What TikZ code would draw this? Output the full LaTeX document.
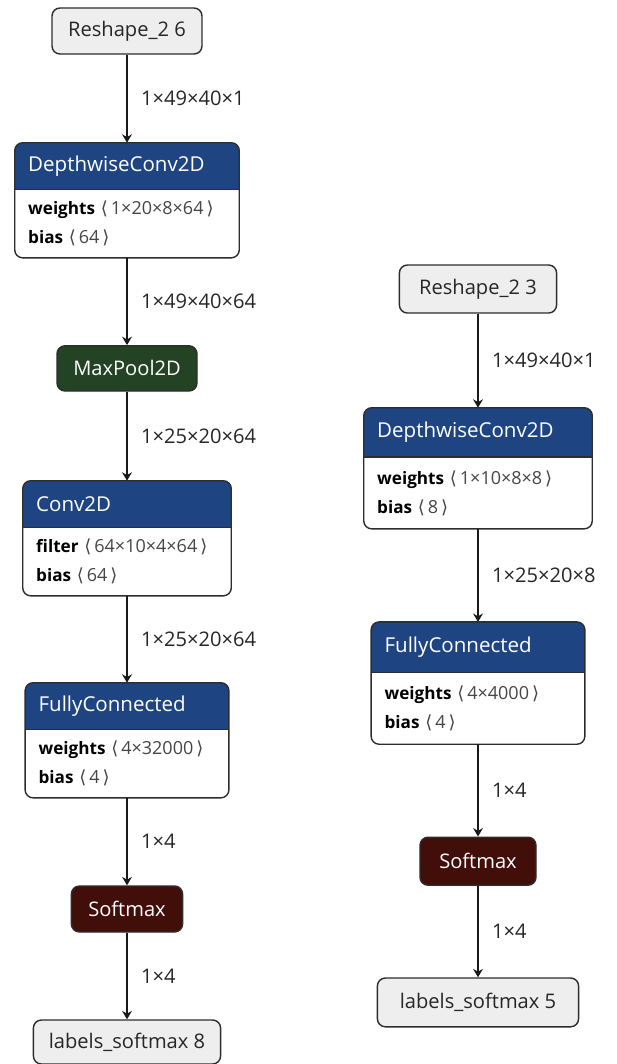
\documentclass[tikz,border=0pt]{standalone}
\usepackage{fontspec}
\setmainfont{Open Sans}
\newfontfamily\symfont{DejaVu Sans}
\usetikzlibrary{positioning,arrows.meta,backgrounds}

\definecolor{layerblue}{RGB}{30,69,130}
\definecolor{poolgreen}{RGB}{36,66,36}
\definecolor{actbrown}{RGB}{66,14,10}
\definecolor{iofill}{RGB}{238,238,238}
\definecolor{edgegray}{RGB}{45,45,45}
\definecolor{valgray}{RGB}{70,70,70}

\newcommand{\tsr}[1]{{\color{valgray}\fontsize{12.8}{20.5}\selectfont{\symfont ⟨}\,#1\,{\symfont ⟩}}}

\tikzset{
    iobox/.style={draw=edgegray, line width=1pt, fill=iofill, rounded corners=0.2cm,
        minimum height=1.15cm, font=\fontsize{14.3}{16}\selectfont, text=black!85},
    opbox/.style={draw=edgegray, line width=1pt, rounded corners=0.2cm,
        minimum height=1.15cm, font=\fontsize{14.3}{16}\selectfont, text=white},
    hdr/.style={minimum height=1.15cm, inner xsep=0.33cm, align=left,
        font=\fontsize{14.6}{16}\selectfont, text=white},
    prm/.style={minimum height=1.7cm, inner xsep=0.33cm, align=left,
        font=\fontsize{12.2}{20.5}\selectfont, text=black},
    arr/.style={-{Stealth[length=6pt,width=7pt,inset=2pt]}, line width=1.2pt, draw=black!90},
    elab/.style={midway, anchor=west, inner xsep=0pt, xshift=0.33cm,
        font=\fontsize{14.3}{16}\selectfont, text=black!85},
}

\begin{document}
\begin{tikzpicture}
    \useasboundingbox (0,0) rectangle (15.4,-26.6);

    % Left graph
    \node[iobox, minimum width=3.75cm] (rsa) at (3.175,-0.775) {Reshape\_2 6};
    \node[hdr, text width=4.94cm] (dwa) at (3.175,-4.15) {DepthwiseConv2D};
    \node[prm, text width=4.94cm, below=0pt of dwa] (dwab)
        {\textbf{weights} \tsr{1×20×8×64}\\\textbf{bias} \tsr{64}};
    \node[opbox, fill=poolgreen, minimum width=3.5cm, minimum height=1.13cm] (mpa) at (3.175,-9.21) {MaxPool2D};
    \node[hdr, text width=4.54cm] (cva) at (3.175,-12.6) {Conv2D};
    \node[prm, text width=4.54cm, below=0pt of cva] (cvab)
        {\textbf{filter} \tsr{64×10×4×64}\\\textbf{bias} \tsr{64}};
    \node[hdr, text width=4.42cm] (fca) at (3.175,-17.65) {FullyConnected};
    \node[prm, text width=4.42cm, below=0pt of fca] (fcab)
        {\textbf{weights} \tsr{4×32000}\\\textbf{bias} \tsr{4}};
    \node[opbox, fill=actbrown, minimum width=2.78cm] (sma) at (3.175,-22.725) {Softmax};
    \node[iobox, minimum width=4.68cm, minimum height=1.1cm] (lba) at (3.175,-26.05) {labels\_softmax 8};

    \draw[arr] (rsa) -- node[elab] {1×49×40×1} (dwa);
    \draw[arr] (dwab) -- node[elab] {1×49×40×64} (mpa);
    \draw[arr] (mpa) -- node[elab] {1×25×20×64} (cva);
    \draw[arr] (cvab) -- node[elab] {1×25×20×64} (fca);
    \draw[arr] (fcab) -- node[elab] {1×4} (sma);
    \draw[arr] (sma) -- node[elab] {1×4} (lba);

    % Right graph
    \node[iobox, minimum width=3.93cm, minimum height=1.2cm] (rsb) at (11.95,-7.225) {Reshape\_2 3};
    \node[hdr, text width=5.04cm, minimum height=1.22cm] (dwb) at (11.95,-10.81) {DepthwiseConv2D};
    \node[prm, text width=5.04cm, minimum height=1.78cm, below=0pt of dwb] (dwbb)
        {\textbf{weights} \tsr{1×10×8×8}\\\textbf{bias} \tsr{8}};
    \node[hdr, text width=4.67cm, minimum height=1.25cm] (fcb) at (11.95,-16.18) {FullyConnected};
    \node[prm, text width=4.67cm, minimum height=1.78cm, below=0pt of fcb] (fcbb)
        {\textbf{weights} \tsr{4×4000}\\\textbf{bias} \tsr{4}};
    \node[opbox, fill=actbrown, minimum width=2.9cm, minimum height=1.2cm] (smb) at (11.95,-21.53) {Softmax};
    \node[iobox, minimum width=5.03cm, minimum height=1.22cm] (lbb) at (11.95,-25.06) {labels\_softmax 5};

    \draw[arr] (rsb) -- node[elab] {1×49×40×1} (dwb);
    \draw[arr] (dwbb) -- node[elab] {1×25×20×8} (fcb);
    \draw[arr] (fcbb) -- node[elab] {1×4} (smb);
    \draw[arr] (smb) -- node[elab] {1×4} (lbb);

    % layer boxes: blue header over white body
    \begin{scope}[on background layer]
        \foreach \h/\b in {dwa/dwab, cva/cvab, fca/fcab, dwb/dwbb, fcb/fcbb} {
            \begin{scope}
                \clip[rounded corners=0.2cm] (\h.north west) rectangle (\b.south east);
                \fill[layerblue] (\h.north west) rectangle (\h.south east);
                \fill[white] (\b.north west) rectangle (\b.south east);
            \end{scope}
            \draw[edgegray, line width=1pt] (\h.south west) -- (\h.south east);
            \draw[edgegray, line width=1pt, rounded corners=0.2cm] (\h.north west) rectangle (\b.south east);
        }
    \end{scope}
\end{tikzpicture}
\end{document}
